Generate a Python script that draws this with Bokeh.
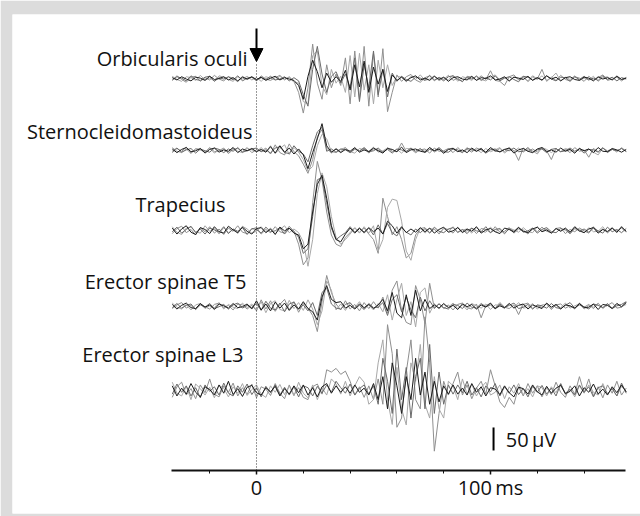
import numpy as np
from bokeh.plotting import figure
from bokeh.models import Range1d, FixedTicker, Arrow, NormalHead
from bokeh.core.properties import value
from bokeh.embed import file_html
from bokeh.resources import INLINE

# ---------------- data (µV, one sample every 2 ms starting at -36 ms) ----------------
T0_MS = -36
STEP_MS = 2

MUSCLES = ["Orbicularis oculi", "Sternocleidomastoideus", "Trapecius",
           "Erector spinae T5", "Erector spinae L3"]

ORB_1 = [2,-3,4,-1,-5,3,1,-4,5,-2,0,4,-3,2,-5,3,-1,4,-2,3,-4,1,5,-3,2,-1,-4] + \
        [-15,-45,5,40,15,-20,12,-8,4,-6,18,-25,30,-18,38,-30,25,-12,20,-28,8,-4] + \
        [3,-5,2,6,-3,1,-4,5,-2,3,-6,2,4,-1,-3,5,-4,2,0,6,-3,-1,4,-5,3,1,-2,5,-4,2,-3,6,-1,3,-5,2,4,-2,-4,3,1,-5,4,-1,2,-3,5,-2,1]
ORB_2 = [-4,6,-2,-8,3,5,-6,2,-3,7,-1,-5,4,1,-7,5,-2,3,-5,6,-1,-4,2,7,-3,4,-6] + \
        [-30,-75,-20,75,-10,-45,30,-20,10,-15,45,-55,60,-45,70,-60,55,-40,65,-72,-30,8] + \
        [-6,4,9,-3,-8,2,6,-5,3,-2,7,-4,1,-7,5,3,-3,6,-2,17,-4,-6,-15,4,8,-3,2,-5,6,-1,20,-6,3,-4,7,-2,-5,4,1,-6,5,-3,2,8,-4,-1,3,-5,2]
ORB_3 = [5,-2,-6,4,2,-4,7,-3,1,-5,6,3,-2,-6,4,-1,5,-3,2,-6,4,1,-3,5,-2,3,-8] + \
        [-10,-50,-55,50,60,-15,-35,20,-10,5,-30,50,-40,55,-25,30,-55,40,-20,30,-15,5] + \
        [3,-7,5,-2,8,-4,-1,6,-5,2,-3,7,-6,4,1,-4,6,-2,-5,3,8,-3,2,-6,4,-1,5,-7,3,-2,6,-4,2,12,-5,3,-2,6,-4,1,-3,5,-6,2,4,-3,6,-2,3]
ORB_4 = [-3,4,1,-5,6,-2,-4,3,5,-6,2,-1,4,-3,6,-5,1,3,-4,2,-2,5,-3,-1,4,-5,2] + \
        [-5,-35,-60,20,70,10,-30,5,15,-10,10,-20,45,-50,30,-20,60,-35,20,-40,12,-6] + \
        [5,-2,-6,3,1,-4,7,-3,2,-5,4,6,-2,-6,3,-1,5,-4,2,-3,6,-5,1,4,-2,-7,5,3,-3,2,-4,6,-1,-5,3,2,-6,4,-2,5,-3,1,-4,6,-2,3,-5,2,-1]

STE_1 = [3,-5,2,6,-3,-1,4,-6,2,5,-4,1,-2,6,-5,3,-1,4,-3,2,-4] + [8,-6,10,-4,5,-8,3] + \
        [-10,-40,-5,25,58,10,-4] + \
        [3,-5,2,-2,6,-4,1,-3,5,-1,-6,4,2,-3,7,-5,1,3,-2,-4,6,-1,3,-6,2,4,-3,1,-5,5,-2,3,-4,6,-1,-3,2,5,-6,1,4,-2,-5,3,6,-3,1,-4,5,-2,2,-6,4,-1,3,-5,6,-2,-3,4,1,-4,2]
STE_2 = [-5,4,-2,7,-6,3,1,-4,6,-3,-1,5,-7,2,4,-3,6,-5,1,-2,5] + [-8,12,-5,-10,14,-3,-12] + \
        [-30,-50,-20,30,45,5,-6] + \
        [4,-3,6,-5,2,-1,5,-6,3,1,-4,6,-2,-3,16,-2,4,-5,1,3,-6,5,-2,-1,4,-5,6,-3,2,-4,5,1,-6,3,-2,4,-3,6,-1,-22,5,-2,3,-4,6,-1,-20,4,-3,2,-5,6,-2,1,-15,4,-3,6,-5,2,-1,4,-3]
STE_3 = [6,-2,-5,3,-7,4,2,-3,5,-6,1,3,-4,6,-2,-5,4,1,-3,6,-4] + [10,-7,4,12,-9,6,-4] + \
        [-20,-45,-35,10,35,25,-3] + \
        [-5,2,6,-3,-6,4,1,-2,7,-4,-1,5,-3,2,-6,4,3,-5,1,-2,6,-4,2,-7,3,5,-2,-4,6,-1,2,-5,4,-3,1,6,-6,2,-2,5,-4,3,-1,-8,6,2,-5,3,-3,4,1,-6,5,-2,3,-4,-10,5,-1,3,-4,6,-2]
STE_4 = [-2,5,-4,1,4,-6,3,-1,-4,5,2,-5,3,-2,6,-4,-1,3,5,-3,1] + [-6,5,8,-5,-7,10,-2] + \
        [-8,-25,10,40,50,-2,3] + \
        [-4,3,1,-5,4,-2,6,-3,-1,5,-4,2,-6,3,1,-3,5,-2,4,-5,2,-1,6,-3,-4,3,1,-5,4,2,-2,5,-6,1,3,-4,2,-1,5,-3,-2,6,-4,1,3,-5,2,4,-3,-1,5,-2,3,-6,2,1,-4,5,-3,2,-1,4,-2]

TRA_1 = [5,-8,3,10,-4,-9,6,2,-7,8,-3,-6,9,1,-5,7,-2,-8,4,6,-5,3,-9,7,-1,5,-6] + \
        [-10,-40,-30,40,100,120,70,10,-20,-25,-8,5,-6,4] + \
        [-4,6,-3,5,-8,20,10,-6,8,-5,3,-4,6] + \
        [-3,5,-6,2,7,-4,-1,6,-5,3,-2,8,-6,1,4,-3,-7,5,2,-4,6,-2,-5,3,7,-3,1,-6,4,-2,5,-4,8,-1,-5,3,6,-6,2,-3,5,-4,7,-2]
TRA_2 = [-7,4,9,-5,2,-10,6,-3,8,-6,3,-9,5,-2,10,-4,-7,3,6,-8,2,-5,8,-3,-6,9,-2] + \
        [-30,-75,-60,60,150,110,40,-10,-30,-35,-15,-5,6,-4] + \
        [5,-8,-20,-50,70,30,-10,8,-20,-60,-50,-10,4] + \
        [6,-5,3,-8,4,2,-6,7,-3,-1,5,-7,4,2,-5,8,-4,-2,6,-6,3,1,-8,5,-3,7,-2,-5,4,6,-7,2,-3,5,-1,-6,8,-4,3,-2,6,-5,9,-3]
TRA_3 = [8,-4,-9,5,7,-3,-6,10,-2,4,-8,6,-5,2,-7,9,3,-6,-2,8,-4,5,-7,2,10,-5,3] + \
        [-5,-25,-78,-20,80,125,95,30,-15,-30,-20,-8,5,-6] + \
        [8,-6,10,-45,-20,50,68,65,20,-45,-65,-20,5] + \
        [-6,4,2,-7,5,-3,8,-5,1,3,-6,6,-2,-4,7,-3,2,-8,5,1,-4,6,-3,-5,8,-2,3,-6,5,-1,4,-7,3,2,-5,6,-3,-2,8,-6,4,-1,5,-4]
TRA_4 = [-3,7,-6,2,9,-5,3,-8,5,1,-4,8,-7,3,-2,6,-9,4,2,-6,7,-3,-1,6,-8,4,-2] + \
        [-15,-50,-40,30,110,115,60,5,-20,-12,-5,8,-4,6] + \
        [-6,5,-10,12,-8,15,-5,-12,6,-4,-10,3,-5] + \
        [4,-6,7,-2,-5,3,6,-4,2,-7,5,-1,-3,8,-5,2,4,-6,3,-2,7,-4,-1,5,-6,2,6,-3,-5,4,1,-7,6,-2,3,-4,5,-1,-6,7,-3,2,-5,4]

ET5_1 = [4,-6,2,7,-3,-5,6,-2,3,-7,5,1,-4,6,-3,-1,5,-6] + [12,-8,5,-10,9,-4,7,-9,3,-6,10,-5,-12] + \
        [-30,20,45,15,8] + [10,-4,2,-6,5,-3,4,-5,3] + [15,-10,30,-15,-25,25,-20,35,-10,15,-5,3] + \
        [-4,6,-3,2,-7,5,-1,4,-6,3,-2,7,-5,1,-3,6,-4,2,5,-6,3,-1,-5,7,-2,4,-6,3,1,-4,6,-3,-2,5,-7,4,2,-5,6,-1,8]
ET5_2 = [-5,3,8,-4,2,-7,5,-1,-6,4,7,-3,2,-8,5,3,-6,2] + [-10,14,-6,12,-11,4,15,-8,10,-13,6,-4,-20] + \
        [-55,10,67,30,5] + [-8,12,-6,4,-10,8,-5,10,-4] + [20,-15,35,55,-10,-35,-40,45,15,-38,50,-5] + \
        [6,-5,3,-8,4,7,-3,-6,5,-25,2,6,-4,8,-2,-5,3,-18,4,7,-5,2,-3,6,-7,3,5,-4,1,-6,7,-2,4,-5,6,-3,2,8,-4,-2,9]
ET5_3 = [7,-2,-6,4,-8,3,6,-5,1,-3,8,-6,4,-2,-5,7,-3,5] + [-8,10,-14,6,12,-7,-10,13,-5,8,-9,14,-6] + \
        [-40,-10,55,35,-8] + [5,-9,7,-3,10,-6,3,-8,6] + [-12,25,-30,15,50,-20,10,-45,30,40,-15,6] + \
        [-6,4,-2,7,-5,3,-8,6,1,-4,5,-7,3,2,-5,6,-3,8,-4,-2,6,-6,3,4,-5,2,-3,7,-4,1,5,-6,2,-2,7,-5,3,-4,6,-1,4]
ET5_4 = [-3,6,-4,2,5,-7,3,-2,6,-5,-1,4,-6,3,7,-4,2,-3] + [6,-9,11,-4,-8,7,-12,5,9,-6,3,-10,8] + \
        [-20,30,40,5,-4] + [-6,4,8,-5,2,-7,6,-3,-2] + [8,-20,15,25,-12,20,-8,-25,20,-10,12,-4] + \
        [5,-3,-6,4,2,-5,7,-2,-4,6,-1,3,-6,5,-3,2,7,-5,-2,4,-6,3,1,-4,6,-3,-5,2,8,-4,3,-1,-6,5,2,-3,6,-5,1,4,10]

EL3_1 = [10,-12,5,-8,15,-4,-14,8,2,-10,12,-6,20,-9,4,-13,7,11,-5,-10,6,-3,9,-12,4] + \
        [-8,10,-5,12,-10,6,-14,8,15,-6,10,-4] + [8,-6,12,-4,5,-10,15] + \
        [-20,30,-40,60,10,-50,30,-20,70,-10,40,-30,20,-25,10,-8] + \
        [12,-8,5,-10,15,-4,8,-12,6,3,-9,10,-5,-14,7,4,-8,12,-3,-10,9,-6,5,11,-7,-2,10,-12,6,-4,14,-8,3,-10,8,-5,12,-3]
EL3_2 = [-15,8,18,-10,4,-18,12,-5,25,-8,-14,10,-4,16,-12,6,-9,14,-16,8,3,-11,15,-6,-18] + \
        [12,-10,6,-15,-20,8,14,-8,45,40,48,35] + [42,20,-10,8,-15,10,-20] + \
        [25,-30,143,80,-80,-60,40,110,-20,-40,160,60,-132,-50,20,-10] + \
        [15,40,-10,12,-18,5,20,-8,45,10,-25,-37,-15,-30,8,-12,15,-6,10,-14,6,-9,18,-4,-15,10,-8,30,-5,25,-12,8,-16,12,-6,20,-10,5]
EL3_3 = [18,-6,-12,9,-20,14,4,-10,7,-16,11,5,-14,8,-6,15,-11,2,12,-8,-15,10,-4,13,-9] + \
        [10,-12,18,-6,-16,12,-20,6,-10,25,14,-8] + [20,-12,10,30,18,-30,-20] + \
        [60,110,-20,-74,50,-40,-75,60,20,100,-30,-60,30,-40,-60,20] + \
        [10,-20,25,-8,14,-12,6,18,-10,-4,12,-18,8,-6,15,-10,4,-14,10,6,-12,8,-5,16,-9,3,-14,10,-6,12,-4,-10,15,-8,5,-12,9,-3]
EL3_4 = [-8,14,-4,10,-12,6,-16,12,-2,8,-10,16,-6,-12,10,-4,14,-9,6,-14,9,-5,12,-10,7] + \
        [-10,8,-14,10,6,-12,9,-6,12,-4,20,6] + [-6,14,-10,4,12,-8,10] + \
        [-30,70,20,-50,90,-20,50,-60,30,70,-40,100,-50,40,-30,12] + \
        [-8,12,-5,20,-10,6,-14,10,-3,15,-12,8,-6,12,-9,4,-14,9,-4,11,-8,5,-12,14,-6,2,-10,12,-4,8,-14,6,10,-8,4,-12,16,-6]

SWEEPS = [
    [ORB_2, ORB_3, ORB_4, ORB_1],
    [STE_2, STE_3, STE_4, STE_1],
    [TRA_2, TRA_3, TRA_4, TRA_1],
    [ET5_2, ET5_3, ET5_4, ET5_1],
    [EL3_2, EL3_3, EL3_4, EL3_1],
]

MAJOR_TICKS = [0, 100]
MINOR_TICKS = [-20, 20, 40, 60, 80, 120, 140]
TICK_LABELS = {100: "100\u2009ms"}
STIMULUS_MS = 0
SCALE_UV = 50
SCALE_LABEL = "50\u2009µV"

# ---------------- layout (positions in data units: ms, µV) ----------------
BASELINES = [852, 696, 522, 357, 174]
LABEL_X = [-3.8, -1.7, -13.2, -4.3, -5.6]
LABEL_Y = [896, 737, 578, 411, 252]
SWEEP_COLORS = ["#8f8f8f", "#a8a8a8", "#6a6a6a", "#1c1c1c"]
FONT = "Open Sans"
FONT_SIZE = "20px"

p = figure(width=640, height=516,
           x_range=Range1d(-104.27, 164.10), y_range=Range1d(-93.5, 991.3),
           output_backend="svg", toolbar_location=None, y_axis_location=None,
           min_border_left=12, min_border_top=14, min_border_right=0, min_border_bottom=3,
           border_fill_color="#dcdcdc", background_fill_color="white",
           outline_line_color=None)
p.xgrid.visible = False
p.ygrid.visible = False

for base, sweeps in zip(BASELINES, SWEEPS):
    for vals, col in zip(sweeps, SWEEP_COLORS):
        v = np.asarray(vals, dtype=float)
        t = T0_MS + STEP_MS * np.arange(len(v))
        p.line(t, base + v, line_color=col, line_width=1.0)

p.text(x=LABEL_X, y=LABEL_Y, text=MUSCLES, text_align="right", text_baseline="middle",
       text_font=value(FONT), text_font_size=FONT_SIZE, text_color="#111111")

# stimulus marker
p.segment(x0=[STIMULUS_MS], y0=[0], x1=[STIMULUS_MS], y1=[887],
          line_color="#333333", line_width=1, line_dash="1 2")
p.add_layout(Arrow(end=NormalHead(size=13, fill_color="black", line_color="black"),
                   x_start=STIMULUS_MS, y_start=961, x_end=STIMULUS_MS, y_end=889,
                   line_width=2, line_color="black"))

# scale bar
p.segment(x0=[101.3], y0=[43.5], x1=[101.3], y1=[43.5 + SCALE_UV], line_color="black", line_width=2)
p.text(x=[106.5], y=[68], text=[SCALE_LABEL], text_baseline="middle",
       text_font=value(FONT), text_font_size=FONT_SIZE, text_color="#111111")

ax = p.xaxis[0]
ax.fixed_location = 0
ax.bounds = (-36.3, 157.7)
ax.ticker = FixedTicker(ticks=MAJOR_TICKS, minor_ticks=MINOR_TICKS)
ax.major_label_overrides = TICK_LABELS
ax.axis_line_width = 2
ax.axis_line_color = "#111111"
ax.major_tick_in = 0
ax.major_tick_out = 4
ax.minor_tick_in = 0
ax.minor_tick_out = 3
ax.major_tick_line_width = 1.5
ax.major_tick_line_color = "#111111"
ax.minor_tick_line_color = "#111111"
ax.major_label_text_font = FONT
ax.major_label_text_font_size = FONT_SIZE
ax.major_label_text_color = "#111111"
ax.major_label_standoff = 0

open("out.html", "w").write(file_html(p, INLINE))
